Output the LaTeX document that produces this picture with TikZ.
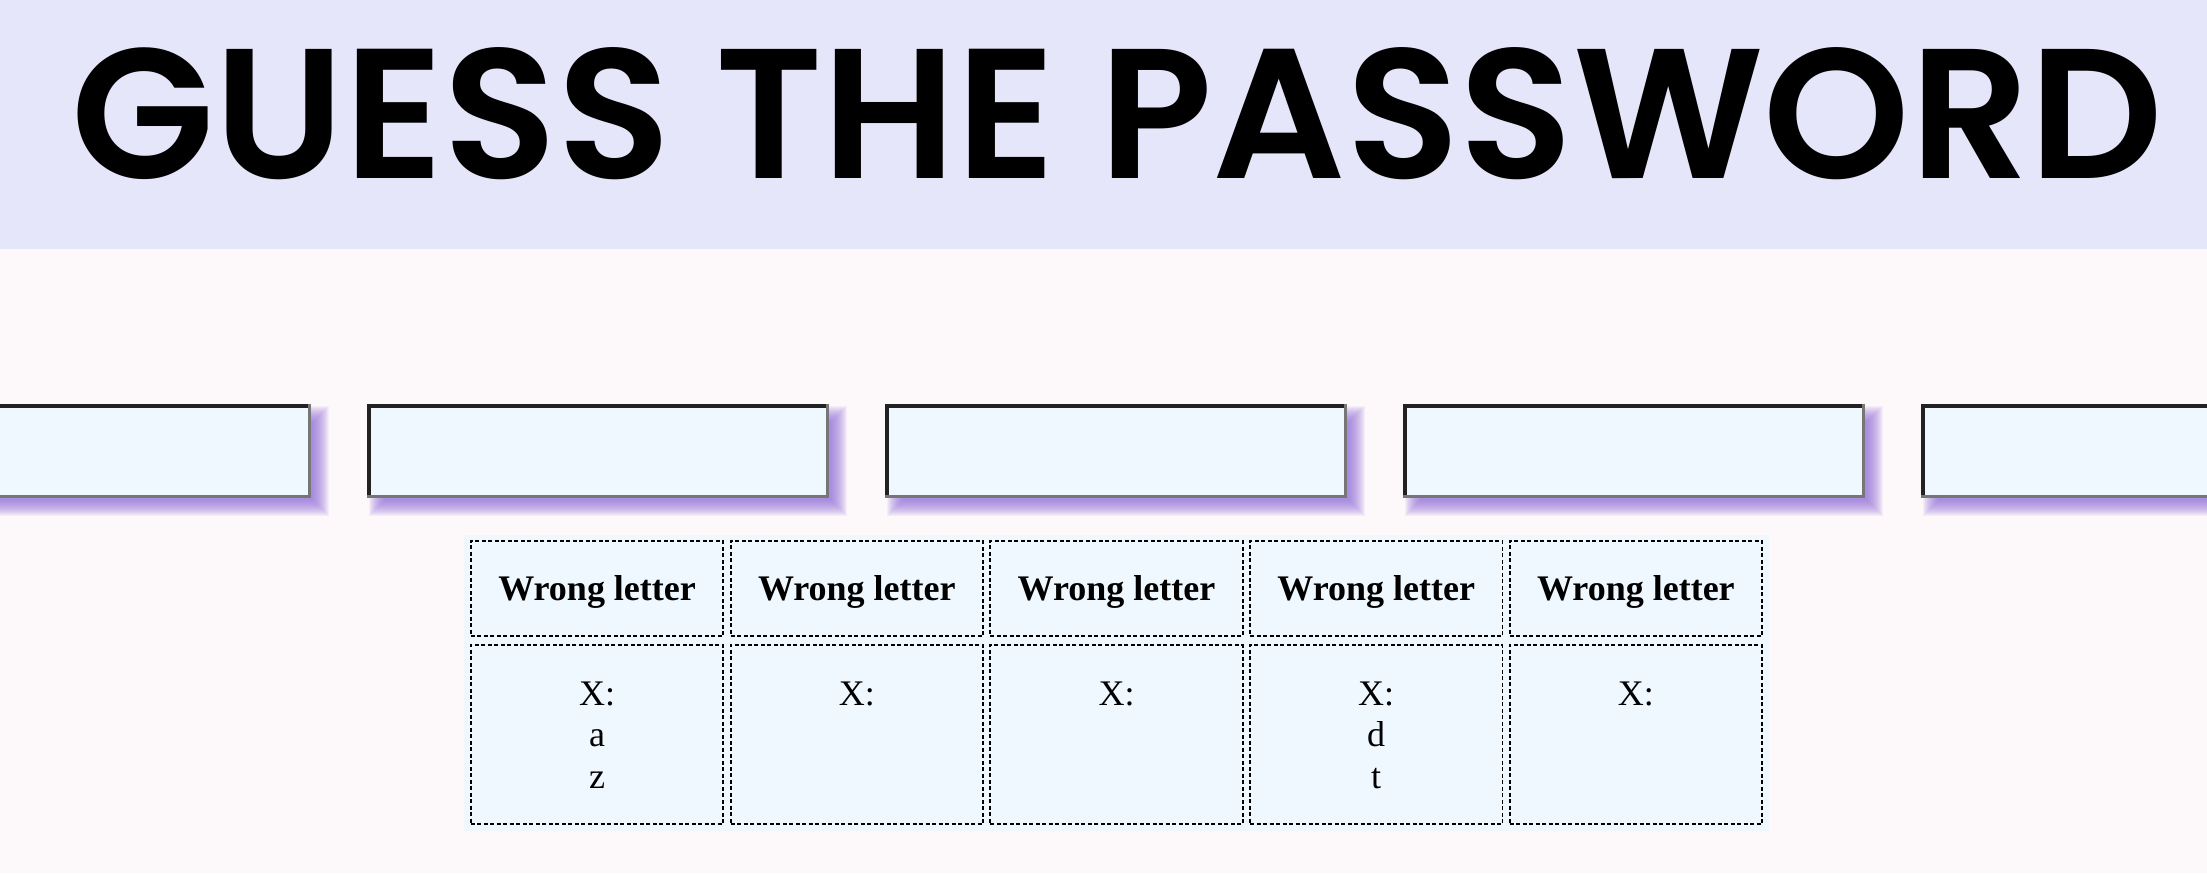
\documentclass[tikz,border=0pt]{standalone}
\usepackage{fontspec}
\setmainfont{Liberation Serif}
\newfontfamily\titlefont{Poppins}[UprightFont={* SemiBold}]
\usetikzlibrary{calc}
\definecolor{pagebg}{HTML}{FDF8FA}
\definecolor{headbg}{HTML}{E6E6FA}
\definecolor{boxfill}{HTML}{F0F8FF}
\definecolor{shadowc}{HTML}{9370DB}
\definecolor{darkedge}{HTML}{222222}
\definecolor{lightedge}{HTML}{767676}
\begin{document}
\begin{tikzpicture}[x=1pt,y=-1pt,
  inputbox/.style={draw=none, fill=boxfill, minimum width=458.5pt, minimum height=90.5pt, inner sep=0pt, outer sep=0pt},
  topedge/.style={draw=darkedge, line width=3.5pt, line cap=rect},
  botedge/.style={draw=lightedge, line width=3.5pt, line cap=rect},
  cellbox/.style={draw=black, dash pattern=on 4pt off 2.5pt, line width=1.8pt, fill=boxfill, inner sep=0pt, outer sep=0pt, minimum width=252.4pt},
  hdrtext/.style={font=\fontsize{36}{41}\selectfont\bfseries, anchor=base, inner sep=0pt},
  celltext/.style={font=\fontsize{36}{41}\selectfont, anchor=base, inner sep=0pt},
  titletext/.style={font=\titlefont\fontsize{185}{200}\selectfont, anchor=base, inner sep=0pt, xscale=1.007},
]
\useasboundingbox (0,0) rectangle (2207,873);
\clip (0,0) rectangle (2207,873);
\fill[pagebg] (0,0) rectangle (2207,873);
\fill[headbg] (0,0) rectangle (2207,248.5);
\node[titletext] (title) at (1117.5,178.3) {GUESS THE PASSWORD};
% input boxes
\foreach \i/\L in {1/-151,2/367,3/885,4/1403,5/1921}{
  \foreach \e in {-8,...,8}{
    \fill[shadowc, fill opacity=0.08] (\L+10-\e, 414-\e) rectangle (\L+472+\e, 508+\e);
  }
  \node[inputbox] (b\i) at (\L+231, 451) {};
  \draw[topedge] (b\i.south west) -- (b\i.north west) -- (b\i.north east);
  \draw[botedge] (b\i.north east) -- (b\i.south east) -- (b\i.south west);
}
% table
\node[fill=boxfill, inner sep=0pt, outer sep=0pt, minimum width=1305pt, minimum height=296pt] (tbl) at (1116.5,683) {};
\foreach \i in {1,...,5}{
  \pgfmathsetmacro\cx{470+(\i-1)*259.7+127.1}
  \node[cellbox, minimum height=95.2pt] (h\i) at (\cx,588.5) {};
  \node[cellbox, minimum height=179.2pt] (d\i) at (\cx,734.5) {};
  \node[hdrtext] (ht\i) at (\cx,600) {Wrong letter};
  \node[celltext] (x\i) at (\cx,705) {X:};
}
\node[celltext] (a1) at (597.1,746.7) {a};
\node[celltext] (z1) at (597.1,788.3) {z};
\node[celltext] (d4t) at (1376.2,746.7) {d};
\node[celltext] (t4) at (1376.2,788.3) {t};
\end{tikzpicture}
\end{document}
